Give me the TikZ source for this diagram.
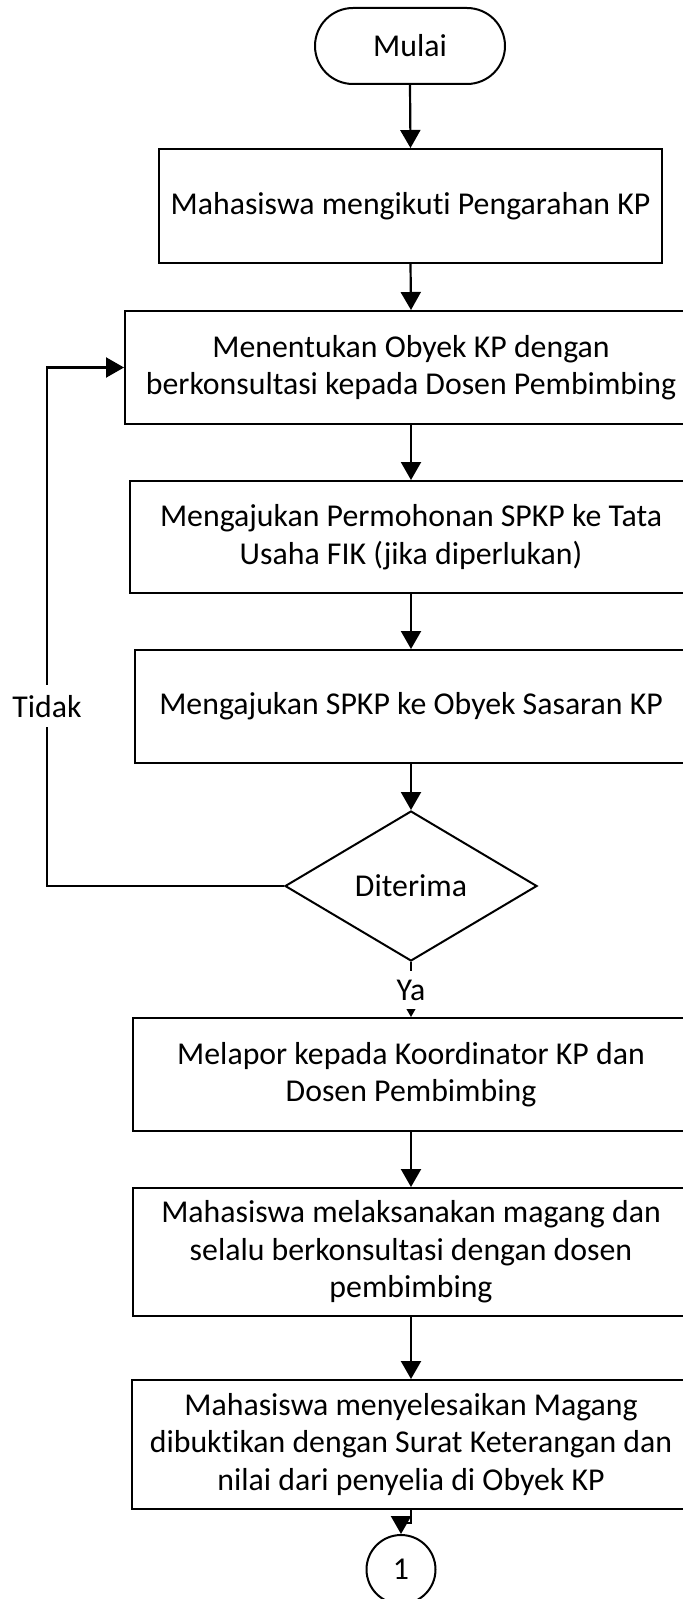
\documentclass[tikz,border=0pt]{standalone}
\usepackage{fontspec}
\setmainfont{Carlito}[Ligatures={NoCommon}]
\usetikzlibrary{shapes.geometric, arrows.meta}

\begin{document}
\begin{tikzpicture}[x=0.5pt, y=-0.5pt,
		every node/.style={font=\fontsize{15.9}{18.8}\selectfont, align=center, inner sep=0pt},
		box/.style={draw, line width=1pt},
		flow/.style={line width=1.1pt, -{Triangle[length=9pt, width=10pt]}},
		label/.style={fill=white, inner sep=2pt}]
		\useasboundingbox (0, 0) rectangle (683, 1599);

		\node[box, rounded corners=19pt, minimum width=95pt, minimum height=38pt] (mulai) at (410, 46) {Mulai};
		\node[box, minimum width=251.5pt, minimum height=57pt] (ikuti) at (410.5, 206) {Mahasiswa mengikuti Pengarahan KP};
		\node[box, minimum width=286pt, minimum height=56.5pt] (tentukan) at (411, 367.5) {Menentukan Obyek KP dengan\\berkonsultasi kepada Dosen Pembimbing};
		\node[box, minimum width=281pt, minimum height=56pt] (mohon) at (411, 537) {Mengajukan Permohonan SPKP ke Tata\\Usaha FIK (jika diperlukan)};
		\node[box, minimum width=276pt, minimum height=56.5pt] (ajukan) at (411, 706.5) {Mengajukan SPKP ke Obyek Sasaran KP};
		\node[box, diamond, minimum width=126pt, minimum height=75pt] (terima) at (411, 886) {Diterima};
		\node[box, minimum width=278pt, minimum height=56.5pt] (lapor) at (411, 1074.5) {Melapor kepada Koordinator KP dan\\Dosen Pembimbing};
		\node[box, minimum width=278pt, minimum height=64pt] (magang) at (411, 1252) {Mahasiswa melaksanakan magang dan\\selalu berkonsultasi dengan dosen\\pembimbing};
		\node[box, minimum width=279pt, minimum height=64.5pt] (selesai) at (411, 1444.5) {Mahasiswa menyelesaikan Magang\\dibuktikan dengan Surat Keterangan dan\\nilai dari penyelia di Obyek KP};
		\node[box, circle, minimum size=34.5pt] (satu) at (401, 1569.5) {1};

		\coordinate (kiri) at (47, 886);

		\draw[flow] (mulai.south) -- (ikuti.north);
		\draw[flow] (ikuti.south) -- (tentukan.north);
		\draw[flow] (tentukan.south) -- (mohon.north);
		\draw[flow] (mohon.south) -- (ajukan.north);
		\draw[flow] (ajukan.south) -- (terima.north);
		\draw[flow] (terima.west) -- (kiri) -- node[label, pos=0.347, minimum height=21pt] {Tidak} (kiri |- tentukan.west) -- (tentukan.west);
		\draw[flow] (terima.south) -- node[label, pos=0.51, minimum height=19pt] {Ya} (lapor.north);
		\draw[flow] (lapor.south) -- (magang.north);
		\draw[flow] (magang.south) -- (selesai.north);
		\draw[flow] (selesai.south) -- ++(0, 13) -| (satu.north);
	\end{tikzpicture}
\end{document}
